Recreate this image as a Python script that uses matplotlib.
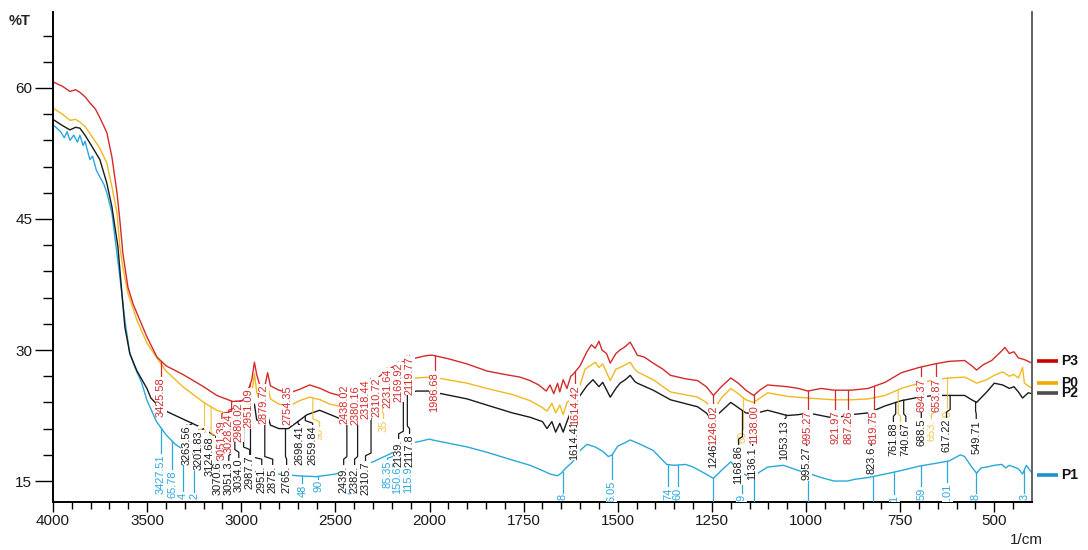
import matplotlib
matplotlib.use('Agg')
import matplotlib.pyplot as plt
import matplotlib.transforms as mtrans
from matplotlib.ticker import FixedLocator
import numpy as np

plt.rcParams['font.family'] = ['Liberation Sans', 'DejaVu Sans']

# ---- spectra: wavenumber (1/cm) / %T ----
p3_wn = [4000, 3950, 3910, 3880, 3857, 3830, 3804, 3775, 3751, 3714, 3687, 3660, 3645, 3629, 3602,
         3575, 3554, 3501, 3448, 3400, 3310, 3200, 3130, 3045, 2992, 2960, 2944, 2930, 2918, 2902,
         2875, 2860, 2845, 2800, 2743, 2690, 2637, 2580, 2530, 2462, 2420, 2387, 2365, 2355, 2340,
         2318, 2300, 2249, 2200, 2159, 2100, 2069, 2030, 2000,
         1992, 1950, 1900, 1848, 1800, 1760, 1733, 1710, 1690, 1680, 1670, 1660, 1654, 1645, 1635,
         1625, 1619, 1600, 1582, 1570, 1560, 1550, 1542, 1530, 1520, 1505, 1494, 1480, 1467, 1458,
         1448, 1430, 1406, 1380, 1360, 1320, 1288, 1265, 1246, 1225, 1200, 1180, 1160, 1139, 1120,
         1102, 1050, 1020, 995, 960, 926, 880, 835, 790, 747, 700, 659, 620, 579, 560, 547, 530,
         507, 490, 478, 472, 460, 448, 436, 420, 400]
p3_t = [60.7, 60.2, 59.6, 59.8, 59.5, 59.0, 58.3, 57.6, 56.6, 54.9, 52.1, 48.0, 44.9, 41.1, 37.2,
        35.3, 34.2, 31.5, 29.2, 28.2, 27.2, 25.8, 24.8, 24.1, 24.2, 25.6, 26.6, 28.6, 27.2, 26.0,
        25.8, 27.4, 25.9, 25.4, 25.1, 25.5, 26.0, 25.6, 25.1, 24.7, 24.9, 25.2, 25.8, 25.4, 25.9,
        25.6, 26.3, 27.3, 28.0, 28.5, 29.0, 29.1, 29.3, 29.4,
        29.4, 29.0, 28.4, 27.6, 27.2, 26.9, 26.5, 26.0, 25.3, 26.0, 25.0, 26.2, 25.2, 26.6, 25.6,
        27.0, 27.2, 28.2, 29.8, 30.6, 30.2, 31.0, 30.0, 29.6, 28.5, 29.6, 30.0, 30.4, 30.9, 30.2,
        29.4, 29.2, 28.5, 27.8, 27.1, 26.7, 26.5, 25.8, 24.8, 25.8, 26.8, 26.2, 25.4, 24.8, 25.5,
        26.0, 25.8, 25.6, 25.3, 25.6, 25.4, 25.4, 25.6, 26.3, 27.4, 28.0, 28.4, 28.7, 28.8, 28.2,
        27.7, 28.3, 28.8, 29.5, 30.0, 30.3, 29.6, 29.8, 29.1, 28.9, 28.5]

p0_wn = [4000, 3950, 3910, 3880, 3857, 3830, 3804, 3751, 3714, 3687, 3660, 3645, 3629, 3602, 3554,
         3501, 3448, 3400, 3310, 3200, 3130, 3045, 2992, 2960, 2944, 2930, 2918, 2902, 2875, 2860,
         2845, 2800, 2743, 2690, 2637, 2580, 2530, 2462, 2400, 2340, 2300, 2249, 2159, 2069, 2000,
         1992, 1900, 1848, 1780, 1733, 1700, 1688, 1675, 1665, 1654, 1645, 1635, 1620, 1600, 1587,
         1570, 1560, 1550, 1540, 1520, 1505, 1494, 1480, 1467, 1455, 1448, 1406, 1360, 1288, 1265,
         1246, 1225, 1200, 1180, 1160, 1139, 1102, 1050, 995, 926, 880, 835, 790, 747, 700, 659,
         620, 579, 560, 547, 520, 500, 478, 460, 448, 436, 425, 420, 400]
p0_t = [57.7, 57.0, 56.3, 56.4, 56.1, 55.6, 54.8, 53.1, 51.4, 48.7, 45.7, 41.8, 39.5, 36.5, 33.4,
        30.8, 29.1, 27.6, 25.8, 24.0, 23.1, 22.5, 22.8, 23.6, 25.0, 27.3, 25.2, 24.2, 24.0, 26.0,
        24.4, 23.8, 23.6, 24.2, 24.6, 24.3, 23.8, 23.5, 23.8, 24.3, 25.0, 25.8, 26.4, 26.8, 26.9,
        26.9, 26.2, 25.6, 24.9, 24.2, 23.4, 23.0, 23.9, 22.8, 23.7, 22.6, 24.0, 24.5, 26.0, 27.8,
        28.3, 28.6, 28.0, 28.4, 26.5, 27.8, 28.0, 28.3, 28.6, 27.8, 27.5, 26.6, 25.2, 24.6, 24.0,
        23.1, 24.5, 25.6, 25.0, 24.3, 24.0, 25.1, 24.7, 24.5, 24.3, 24.3, 24.4, 24.8, 25.6, 26.2, 26.6,
        26.8, 26.9, 26.5, 26.2, 26.6, 27.1, 27.5, 27.0, 27.2, 26.8, 28.0, 26.2, 25.6]

p2_wn = [4000, 3950, 3910, 3880, 3857, 3830, 3804, 3751, 3714, 3687, 3671, 3655, 3634, 3618, 3592,
         3554, 3501, 3480, 3440, 3390, 3300, 3200, 3130, 3080, 3045, 3000, 2960, 2944, 2930, 2918,
         2880, 2860, 2845, 2800, 2750, 2706, 2650, 2584, 2515, 2460, 2400, 2340, 2300, 2249, 2159,
         2069, 2000,
         1992, 1900, 1848, 1780, 1733, 1700, 1688, 1675, 1665, 1654, 1645, 1635, 1620, 1600, 1582,
         1566, 1550, 1540, 1520, 1505, 1494, 1480, 1467, 1455, 1448, 1406, 1360, 1288, 1265, 1250,
         1225, 1200, 1180, 1160, 1139, 1102, 1050, 1020, 995, 926, 880, 835, 790, 747, 700, 659,
         620, 579, 560, 547, 520, 500, 478, 460, 448, 436, 425, 410, 400]
p2_t = [56.4, 55.7, 55.2, 55.5, 55.4, 54.6, 53.7, 51.8, 49.1, 46.4, 44.1, 41.8, 36.5, 32.6, 29.6,
        27.6, 25.6, 24.5, 23.6, 22.9, 22.0, 21.0, 20.0, 20.2, 20.5, 21.2, 22.0, 22.8, 23.8, 22.0,
        21.8, 22.5, 21.4, 21.0, 21.0, 21.7, 22.6, 23.1, 22.5, 22.0, 22.2, 22.8, 23.3, 24.2, 24.9,
        25.3, 25.3,
        25.2, 24.4, 23.7, 22.8, 22.3, 21.8, 21.0, 21.8, 20.6, 21.6, 20.6, 21.8, 23.5, 24.8, 25.9,
        26.6, 25.8, 26.3, 24.6, 25.6, 26.2, 26.6, 27.1, 26.4, 26.2, 25.4, 24.3, 23.5, 22.8, 22.0,
        23.0, 24.0, 23.4, 22.8, 22.7, 23.1, 22.5, 22.6, 22.8, 22.2, 22.6, 22.8, 23.6, 24.2, 24.6, 24.8,
        24.8, 24.8, 24.3, 24.0, 25.2, 26.2, 26.0, 25.6, 25.8, 25.2, 24.5, 25.1, 25.0]

p1_wn = [4000, 3960, 3940, 3925, 3910, 3890, 3870, 3857, 3840, 3830, 3804, 3790, 3770, 3751, 3730,
         3714, 3687, 3671, 3645, 3618, 3592, 3565, 3530, 3500, 3450, 3400, 3350, 3300, 3200, 3100,
         3000, 2900, 2800, 2700, 2600, 2500, 2400, 2300, 2200, 2170, 2100, 2000,
         1992, 1900, 1848, 1780, 1733, 1700, 1680, 1660, 1650, 1640, 1620, 1600, 1582, 1560, 1540,
         1525, 1515, 1500, 1480, 1467, 1440, 1406, 1370, 1350, 1320, 1300, 1270, 1246, 1225, 1200,
         1185, 1170, 1150, 1139, 1102, 1060, 1020, 995, 960, 926, 890, 870, 835, 790, 747, 700, 659,
         620, 590, 579, 560, 547, 535, 520, 500, 480, 470, 460, 448, 436, 425, 415, 400]
p1_t = [55.8, 55.0, 54.3, 55.0, 54.0, 54.6, 53.8, 54.6, 53.4, 53.9, 51.8, 52.2, 50.6, 49.8, 49.0,
        48.0, 45.7, 42.9, 38.4, 33.4, 29.6, 28.0, 26.3, 24.2, 21.8, 20.3, 19.2, 18.5, 17.5, 16.8,
        16.3, 16.0, 15.8, 15.6, 15.5, 15.8, 16.4, 17.2, 18.2, 18.6, 19.3, 19.8,
        19.7, 18.9, 18.3, 17.4, 16.8, 16.2, 15.8, 15.6, 15.9, 16.4, 17.2, 18.5, 19.2, 18.9, 18.4,
        17.8, 18.0, 19.0, 19.4, 19.7, 19.2, 18.5, 16.9, 16.8, 16.9, 16.6, 15.9, 15.3, 16.2, 17.2,
        16.5, 15.9, 15.5, 15.6, 16.6, 16.8, 16.2, 15.9, 15.4, 15.0, 15.0, 15.2, 15.4, 15.8, 16.2, 16.7, 17.0,
        17.3, 18.0, 17.8, 16.6, 15.9, 16.5, 16.6, 16.8, 16.9, 16.5, 16.8, 16.6, 16.4, 15.8, 16.8, 15.9]

# ---- picked peaks ----
p3_peaks = [3425.58, 3051.39, 3028.24, 2980.02, 2951.09, 2879.72, 2754.35, 2438.02, 2380.16,
            2318.44, 2310.72, 2231.64, 2169.92, 2119.77, 1986.68, 1614.42, 1246.02, 1138.00,
            995.27, 921.97, 887.26, 819.75, 694.37, 653.87]
p3_text = [f'{w:.2f}' for w in p3_peaks]

p2_peaks = [3263.56, 3201.83, 3124.68, 3070.6, 3051.3, 3034.0, 2987.7, 2951.0, 2875.0, 2765.0,
            2698.41, 2659.84, 2439.0, 2382.0, 2310.7, 2139.0, 2117.8, 1614.41, 1246.0, 1168.86,
            1136.1, 1053.13, 995.27, 823.6, 761.88, 740.67, 688.5, 617.22, 549.71]
p2_text = ['3263.56', '3201.83', '3124.68', '3070.6', '3051.3', '3034.0', '2987.7', '2951.',
           '2875.', '2765.', '2698.41', '2659.84', '2439.', '2382.', '2310.7', '2139.', '2117.8',
           '1614.41', '1246', '1168.86', '1136.1', '1053.13', '995.27', '823.6', '761.88',
           '740.67', '688.5', '617.22', '549.71']

p1_peaks = [3427.51, 3365.78, 3310.14, 3250.2, 2675.48, 2590.9, 2409.9, 2185.35, 2150.63,
            2115.91, 1646.8, 1516.05, 1365.74, 1340.6, 1246.0, 1170.9, 1139.0, 995.0, 823.0,
            766.1, 693.59, 625.01, 549.8, 420.3]
p1_text = ['3427.51', '65.78', '4', '2', '48', '90', '9', '85.35', '150.63', '115.91', '8',
           '6.05', '74', '60', '', '9', '', '', '', '1', '59', '1.01', '8', '3']

p0_peaks = [3199.9, 3160.11, 2619.9, 2251.35, 1168.6, 755.1, 653.5, 625.7]
p0_text = ['9', '11', '90', '35', '60', '10', '653.', '70']

# ---- label placement (label x in 1/cm, top of text in %T) ----
p3_lab_x = [3425.58, 3103, 3066, 3013, 2960, 2879.72, 2754.35, 2451, 2393, 2340, 2281, 2223,
            2164, 2106, 1986.68, 1614.42, 1246.02, 1138.00, 995.27, 921.97, 887.26, 819.75,
            694.37, 653.87]
p3_top = [26.9, 22.0, 22.7, 24.0, 25.6, 26.0, 26.0, 26.0, 26.0, 26.6, 26.8, 27.9, 28.6, 29.3,
          27.5, 26.0, 23.7, 23.7, 23.1, 23.1, 23.1, 23.1, 26.8, 26.8]

p2_lab_x = [3289, 3225, 3167, 3125, 3066, 3013, 2955, 2891, 2833, 2759, 2690, 2621, 2456, 2398,
            2340, 2164, 2106, 1616, 1248, 1179, 1142, 1059, 998, 827, 768, 735, 694, 627, 548]
p2_top = [21.4, 20.8, 20.1, 17.2, 17.2, 17.6, 17.9, 16.8, 16.8, 16.8, 21.4, 21.4, 16.8, 16.8,
          17.2, 19.7, 20.3, 22.0, 19.3, 19.1, 18.9, 22.0, 18.9, 18.9, 21.7, 21.7, 22.2, 22.2, 22.0]

p1_lab_x = [3427.51, 3365.78, 3310.14, 3250.2, 2675.48, 2590.9, 2409.9, 2223, 2170, 2112,
            1646.8, 1516.05, 1365.74, 1340.6, 1246.0, 1170.9, 1139.0, 995.0, 823.0, 766.1,
            693.59, 625.01, 549.8, 420.3]
p1_top = [18.0, 16.2, 13.7, 13.6, 14.6, 15.1, 14.2, 17.4, 17.4, 17.4, 13.5, 15.1, 14.2, 14.2,
          12.6, 13.4, 12.6, 12.6, 12.6, 13.3, 14.2, 14.75, 13.5, 13.5]

p0_lab_x = [3199.9, 3125, 2584, 2244, 1168.6, 749, 667, 625.7]
p0_top = [21.2, 19.4, 21.1, 22.0, 20.8, 21.7, 22.0, 23.2]

RED, GOLD, BLACK, BLUE = '#d42a2a', '#f0b91e', '#1a1a1a', '#2aa8dc'


def fwd(x):
    x = np.asarray(x, dtype=float)
    return np.where(x > 2000, 2000 + (x - 2000) / 2, x)


def inv(u):
    u = np.asarray(u, dtype=float)
    return np.where(u > 2000, 2000 + (u - 2000) * 2, u)


def peak_labels(ax, wn, t, peaks, texts, lab_x, tops, color, z, alpha=1.0):
    wn_inc, t_inc = np.asarray(wn)[::-1], np.asarray(t)[::-1]
    for w, txt, lx, top in zip(peaks, texts, lab_x, tops):
        c = np.interp(w, wn_inc, t_inc)
        mid = top + min(1.0, max(c - top, 0) * 0.5)
        ax.plot([w, w, lx, lx], [c, mid, mid - 0.3, top], color=color, lw=0.9,
                zorder=z, alpha=alpha)
        if txt:
            ax.text(lx, top, txt, rotation=90, ha='center', va='top', fontsize=7.9,
                    color=color, alpha=alpha, zorder=z + 0.5, clip_on=True,
                    bbox=dict(boxstyle='square,pad=0.05', fc='white', ec='none'))


fig = plt.figure(figsize=(10.88, 5.5), dpi=100)
ax = fig.add_axes([0.0487, 0.0873, 0.8998, 0.8909])
ax.set_xscale('function', functions=(fwd, inv))
ax.set_xlim(4000, 400)
ax.set_ylim(12.6, 68.7)

ax.plot(p1_wn, p1_t, color=BLUE, lw=1.0, zorder=2)
ax.plot(p2_wn, p2_t, color=BLACK, lw=1.0, zorder=2)
ax.plot(p0_wn, p0_t, color=GOLD, lw=1.0, zorder=2)
ax.plot(p3_wn, p3_t, color=RED, lw=1.0, zorder=2)

peak_labels(ax, p1_wn, p1_t, p1_peaks, p1_text, p1_lab_x, p1_top, BLUE, 3)
peak_labels(ax, p0_wn, p0_t, p0_peaks, p0_text, p0_lab_x, p0_top, GOLD, 4, alpha=0.8)
peak_labels(ax, p2_wn, p2_t, p2_peaks, p2_text, p2_lab_x, p2_top, BLACK, 5)
peak_labels(ax, p3_wn, p3_t, p3_peaks, p3_text, p3_lab_x, p3_top, RED, 6)

# axes styling
for side in ['left', 'bottom']:
    ax.spines[side].set_linewidth(1.4)
    ax.spines[side].set_color('black')
ax.spines['top'].set_visible(False)
ax.spines['right'].set_color('#555555')
ax.spines['right'].set_linewidth(1.3)

ax.xaxis.set_major_locator(FixedLocator([4000, 3500, 3000, 2500, 2000, 1750, 1500, 1250, 1000, 750, 500]))
x_minor = list(range(3900, 2000, -100)) + list(range(1950, 400, -50))
ax.xaxis.set_minor_locator(FixedLocator(x_minor))
ax.xaxis.set_major_formatter(plt.FuncFormatter(lambda v, p: f'{v:.0f}'))
ax.xaxis.set_minor_formatter(plt.NullFormatter())
ax.yaxis.set_major_locator(FixedLocator([15, 30, 45, 60]))
ax.yaxis.set_minor_locator(FixedLocator(list(range(15, 69, 3))))
ax.tick_params(axis='y', which='major', length=13, width=1.0, labelsize=11, pad=2,
               labelcolor='#1a1a1a')
ax.tick_params(axis='y', which='minor', length=7, width=1.0)
ax.tick_params(axis='x', which='major', length=7, width=1.0, labelsize=11, pad=2,
               labelcolor='#1a1a1a')
ax.tick_params(axis='x', which='minor', length=5, width=1.0)

fig.text(0.008, 0.962, '%T', fontsize=10.5, fontweight='bold', va='center', color='#222222')
fig.text(0.928, 0.018, '1/cm', fontsize=11, va='center', color='#222222')

# series key on the right edge
legend_names = ['P3', 'P0', 'P2', 'P1']
legend_colors = ['#cc0000', '#f2ac00', '#4d4d4d', '#1e8fd0']
legend_y = [28.7, 26.2, 25.1, 15.7]
trans = mtrans.blended_transform_factory(ax.transAxes, ax.transData)
for name, col, yv in zip(legend_names, legend_colors, legend_y):
    ax.plot([1.005, 1.027], [yv, yv], transform=trans, color=col, lw=2.6, clip_on=False,
            solid_capstyle='butt')
    ax.text(1.030, yv, name, transform=trans, fontsize=10, fontweight='bold', va='center',
            color='#111111')

fig.savefig('out.png', dpi=100)
